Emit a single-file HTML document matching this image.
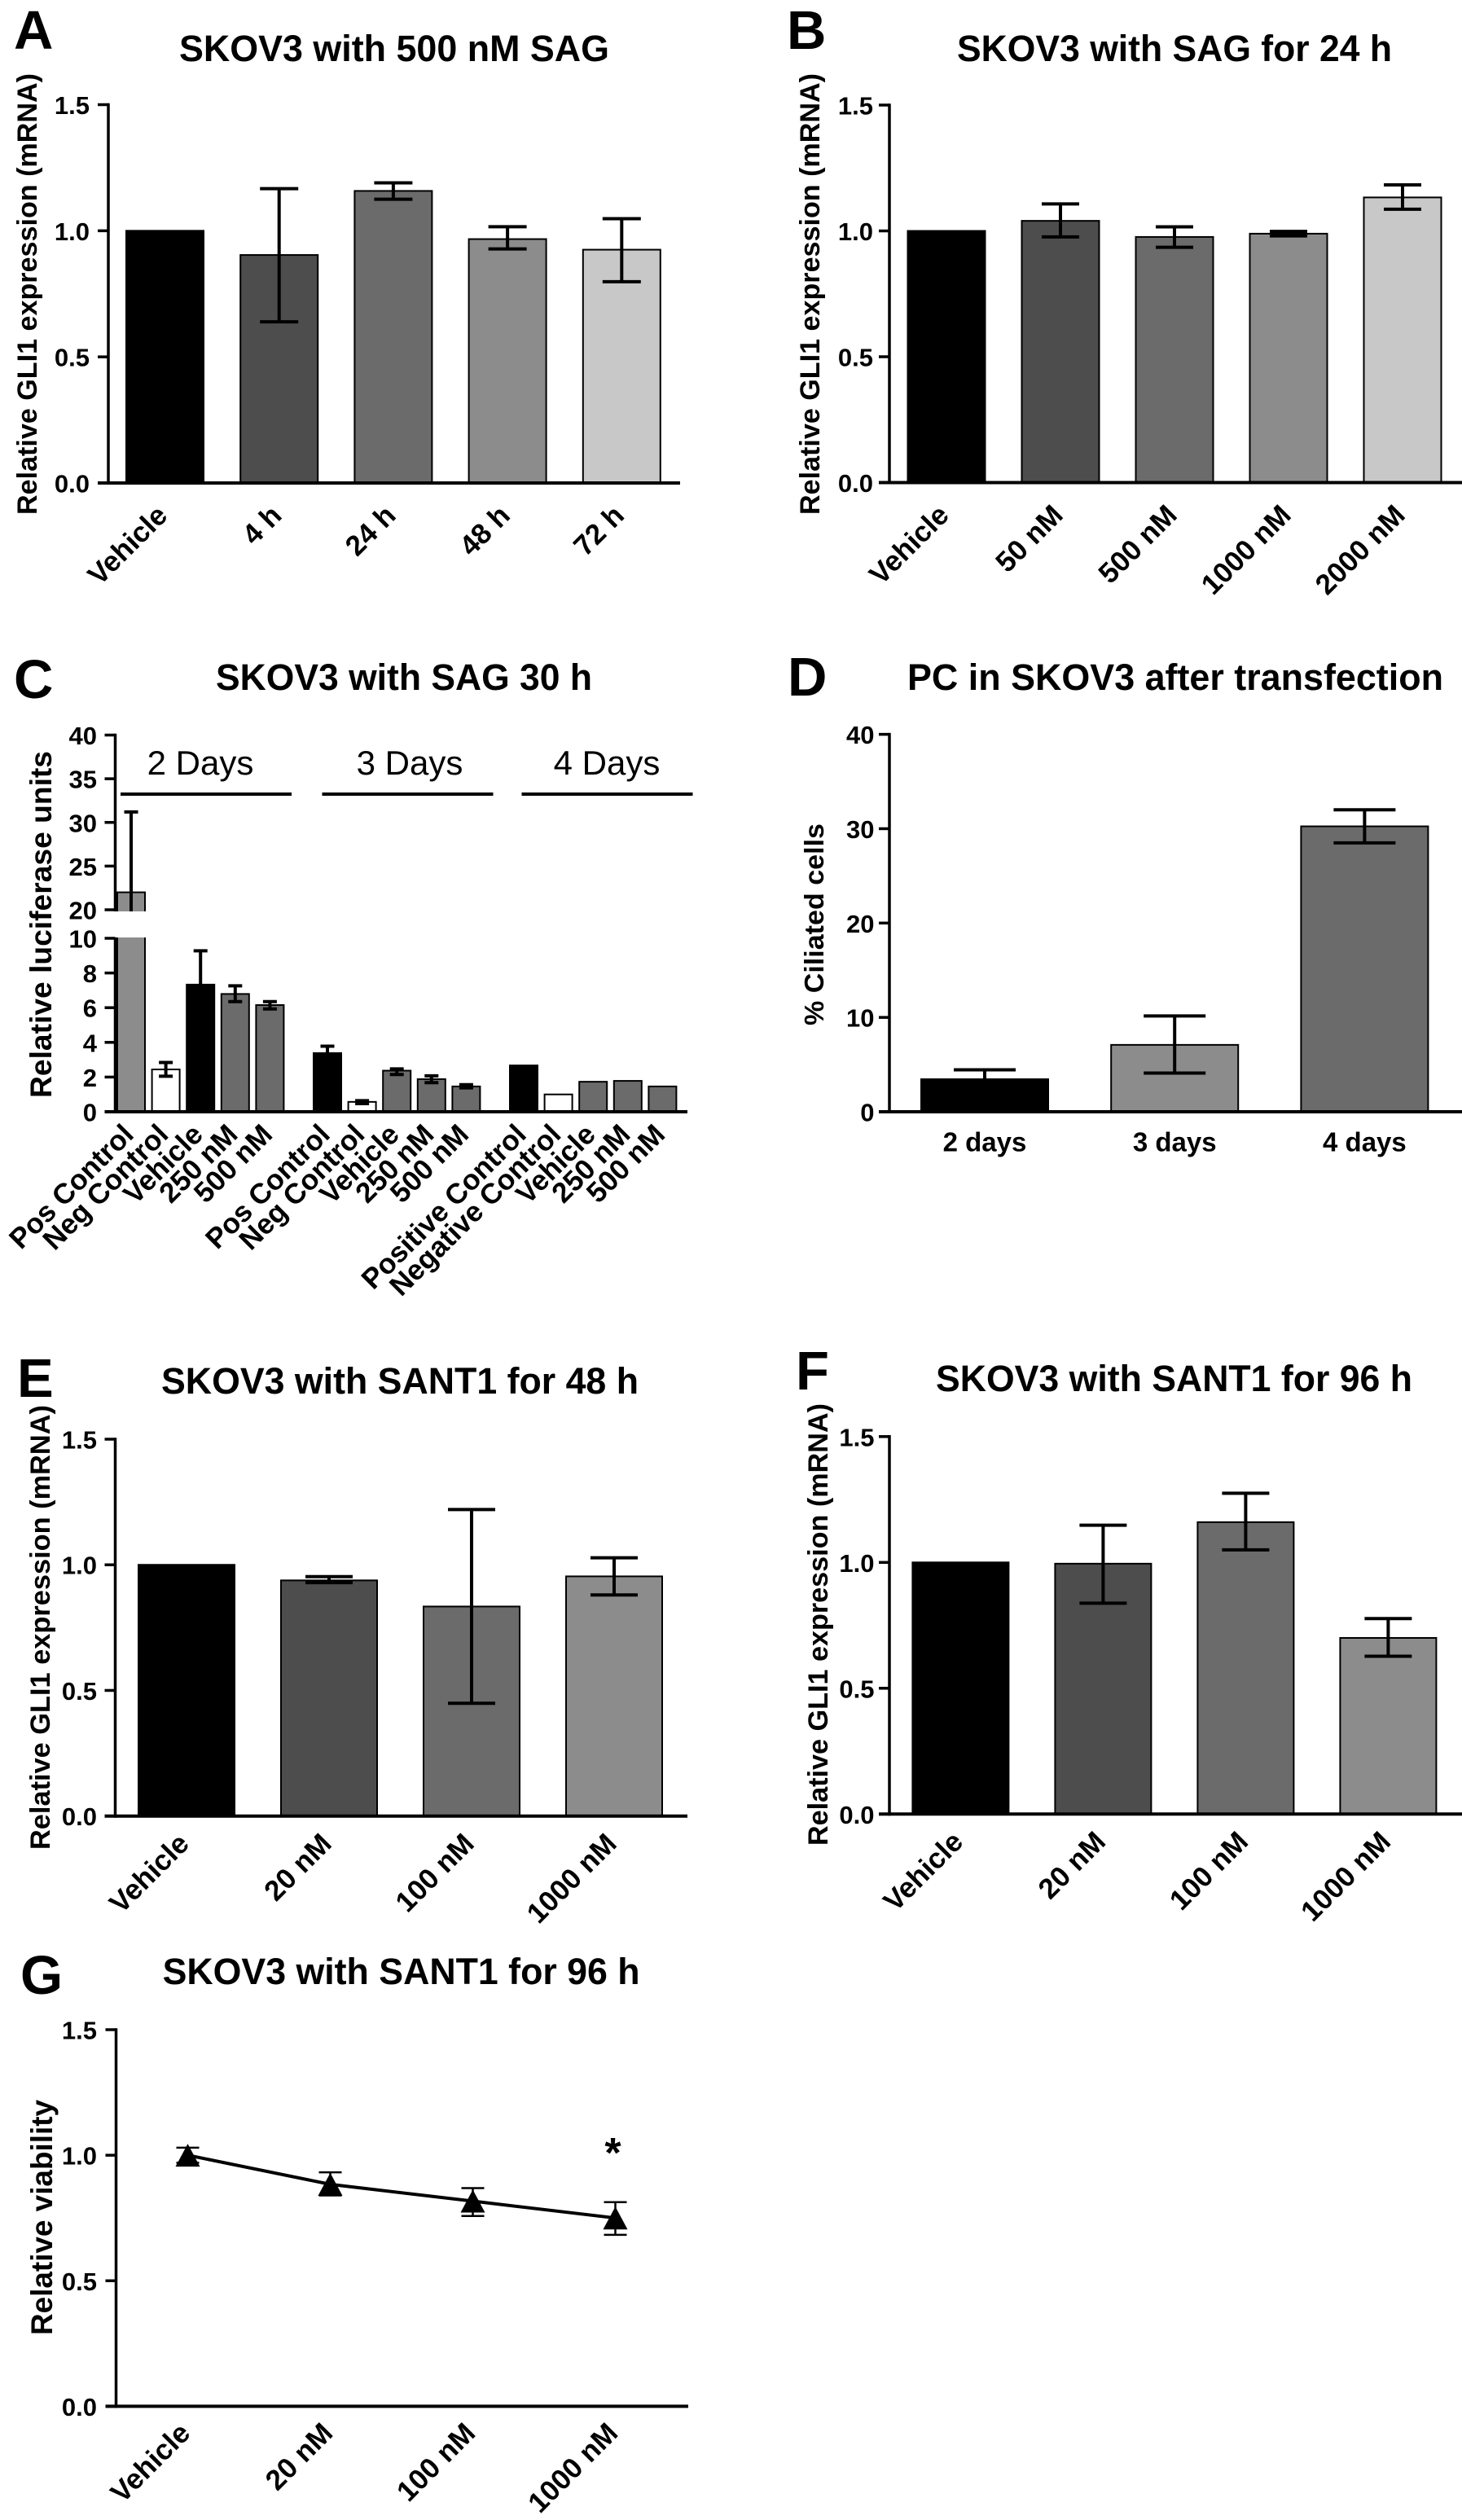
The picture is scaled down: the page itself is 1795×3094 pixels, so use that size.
<!DOCTYPE html>
<html lang="en">
<head>
<meta charset="utf-8">
<title>SKOV3 SAG and SANT1 panels</title>
<style>
html,body{margin:0;padding:0;background:#fff;}
svg{display:block;font-family:"Liberation Sans",Arial,sans-serif;}
</style>
</head>
<body>
<svg id="figure" xmlns="http://www.w3.org/2000/svg" width="1795" height="3094" viewBox="0 0 1795 3094"></svg>
<script>
/* ---------- Panel data ---------- */
const glyTickValues = [0, 0.5, 1, 1.5];
const glyTickLabels = ["0.0", "0.5", "1.0", "1.5"];

const panelACategories = ["Vehicle", "4 h", "24 h", "48 h", "72 h"];
const panelAMeans = [1, 0.904, 1.158, 0.967, 0.925];
const panelAErrHigh = [null, 1.167, 1.19, 1.016, 1.048];
const panelAErrLow = [null, 0.639, 1.125, 0.928, 0.798];

const panelBCategories = ["Vehicle", "50 nM", "500 nM", "1000 nM", "2000 nM"];
const panelBMeans = [1, 1.04, 0.976, 0.989, 1.133];
const panelBErrHigh = [null, 1.107, 1.016, 0.998, 1.183];
const panelBErrLow = [null, 0.976, 0.935, 0.98, 1.086];

const panelCCategories = ["Pos Control", "Neg Control", "Vehicle", "250 nM", "500 nM", "Pos Control", "Neg Control", "Vehicle", "250 nM", "500 nM", "Positive Control", "Negative Control", "Vehicle", "250 nM", "500 nM"];
const panelCMeans = [22, 2.44, 7.33, 6.79, 6.15, 3.38, 0.57, 2.37, 1.88, 1.46, 2.67, 1, 1.73, 1.78, 1.46];
const panelCErrHigh = [31.2, 2.84, 9.28, 7.26, 6.35, 3.78, 0.64, 2.47, 2.07, 1.56, null, null, null, null, null];
const panelCErrLow = [12.7, 2.05, 5.4, 6.35, 5.93, 3.0, 0.47, 2.15, 1.68, 1.38, null, null, null, null, null];
const panelCTickValues = [0, 2, 4, 6, 8, 10, 20, 25, 30, 35, 40];
const panelCTickLabels = ["0", "2", "4", "6", "8", "10", "20", "25", "30", "35", "40"];
const panelCGroups = ["2 Days", "3 Days", "4 Days"];

const panelDCategories = ["2 days", "3 days", "4 days"];
const panelDMeans = [3.45, 7.09, 30.25];
const panelDErrHigh = [4.45, 10.15, 32.0];
const panelDErrLow = [2.45, 4.1, 28.5];
const panelDTickValues = [0, 10, 20, 30, 40];
const panelDTickLabels = ["0", "10", "20", "30", "40"];

const panelECategories = ["Vehicle", "20 nM", "100 nM", "1000 nM"];
const panelEMeans = [1, 0.938, 0.834, 0.954];
const panelEErrHigh = [null, 0.953, 1.22, 1.028];
const panelEErrLow = [null, 0.929, 0.449, 0.88];

const panelFCategories = ["Vehicle", "20 nM", "100 nM", "1000 nM"];
const panelFMeans = [1, 0.995, 1.16, 0.70];
const panelFErrHigh = [null, 1.148, 1.275, 0.777];
const panelFErrLow = [null, 0.838, 1.05, 0.627];

const panelGCategories = ["Vehicle", "20 nM", "100 nM", "1000 nM"];
const panelGMeans = [1, 0.884, 0.817, 0.75];
const panelGErrHigh = [1.03, 0.932, 0.869, 0.813];
const panelGErrLow = [0.97, 0.84, 0.758, 0.683];

/* ---------- Helpers ---------- */
const NS = "http://www.w3.org/2000/svg";
const figure = document.getElementById("figure");

function svgEl(tag, parent, props) {
  const el = document.createElementNS(NS, tag);
  for (const k in props) el.setAttribute(k, props[k]);
  parent.appendChild(el);
  return el;
}
function linearScale(top, bottom, max) {
  return function (v) { return bottom - (v / max) * (bottom - top); };
}
function line(parent, x1, y1, x2, y2, w) {
  return svgEl("line", parent, { x1: x1, y1: y1, x2: x2, y2: y2, stroke: "#000", "stroke-width": w });
}

function drawFrame(p) {
  const g = svgEl("g", figure, {});
  
  

  const letter = svgEl("text", g, { x: p.letterX, y: p.letterY, "font-size": 67, "font-weight": "bold" });
  letter.textContent = p.letter;
  
  

  const title = svgEl("text", g, { x: p.titleX, y: p.titleY, "font-size": 45, "font-weight": "bold", textLength: p.titleW, lengthAdjust: "spacingAndGlyphs" });
  title.textContent = p.title;
  
  

  const yTitle = svgEl("text", g, { x: 0, y: 0, "font-size": p.yTitleSize, "font-weight": "bold", textLength: p.yTitleLen, lengthAdjust: "spacingAndGlyphs", transform: "translate(" + p.yTitleX + "," + p.yTitleBottom + ") rotate(-90)", "xml:space": "preserve" });
  yTitle.textContent = p.yTitle;
  
  
  return g;
}

function drawYTicks(g, p, scale, values, labels) {
  values.forEach(function (v, i) {
    const y = scale(v);
    const tick = line(g, p.axisX - 13, y, p.axisX, y, 3.5);
    
    
    const t = svgEl("text", g, { x: p.tickRight, y: y + 11.5, "font-size": 31, "font-weight": "bold", "text-anchor": "end" });
    t.textContent = labels[i];
    
    
  });
}

function drawAxes(g, p, yTop) {
  const yAxis = line(g, p.axisX, yTop - 1.75, p.axisX, p.y0 + 2, 3.5);
  
  
  const xAxis = line(g, p.axisX - 13, p.y0, p.xEnd, p.y0, 4);
  
  
}

function drawRotatedLabels(g, cats, xOf, y, size, dx) {
  cats.forEach(function (c, i) {
    const t = svgEl("text", g, { "font-size": size, "font-weight": "bold", "text-anchor": "end", transform: "translate(" + (xOf(i) + dx) + "," + y + ") rotate(-45)" });
    t.textContent = c;
    
    
  });
}

function drawBars(g, means, xOf, scale, y0, barW, fills) {
  means.forEach(function (m, i) {
    const top = scale(m);
    const r = svgEl("rect", g, { x: xOf(i) - barW / 2, y: top, width: barW, height: y0 - top, fill: fills[i], stroke: "#000", "stroke-width": 2 });
    
    
  });
}

function drawErrors(g, hi, lo, xOf, scale, capW, w) {
  hi.forEach(function (h, i) {
    if (h === null) return;
    const x = xOf(i);
    const yh = scale(h);
    const yl = scale(lo[i]);
    const stem = line(g, x, yh, x, yl, w);
    
    
    const capHi = line(g, x - capW / 2, yh, x + capW / 2, yh, w);
    
    
    const capLo = line(g, x - capW / 2, yl, x + capW / 2, yl, w);
    
    
  });
}

/* ---------- Simple bar panels (A, B, E, F) ---------- */
const fiveGreys = ["#000000", "#4d4d4d", "#6b6b6b", "#8c8c8c", "#c8c8c8"];

function glyPanel(p, cats, means, hi, lo) {
  const g = drawFrame(p);
  const scale = linearScale(p.yTop, p.y0, 1.5);
  const xOf = function (i) { return p.first + i * p.step; };
  drawBars(g, means, xOf, scale, p.y0, p.barW, fiveGreys);
  drawErrors(g, hi, lo, xOf, scale, p.capW, 4);
  drawAxes(g, p, p.yTop);
  drawYTicks(g, p, scale, glyTickValues, glyTickLabels);
  drawRotatedLabels(g, cats, xOf, p.y0 + p.labelDy, 35, 5);
}

glyPanel({ name: "panel-a", letter: "A", letterX: 17, letterY: 60, title: "SKOV3 with 500 nM SAG", titleX: 220, titleY: 75, titleW: 528,
  yTitle: "Relative GLI1 expression (mRNA)", yTitleX: 45, yTitleBottom: 632, yTitleLen: 542, yTitleSize: 34,
  axisX: 133, tickRight: 110, yTop: 128.5, y0: 593, xEnd: 835, first: 202.5, step: 140.2, barW: 95, capW: 47, labelDy: 42 },
  panelACategories, panelAMeans, panelAErrHigh, panelAErrLow);

glyPanel({ name: "panel-b", letter: "B", letterX: 966, letterY: 60, title: "SKOV3 with SAG for 24 h", titleX: 1175, titleY: 75, titleW: 534,
  yTitle: "Relative GLI1 expression (mRNA)", yTitleX: 1006, yTitleBottom: 632, yTitleLen: 542, yTitleSize: 34,
  axisX: 1092, tickRight: 1072, yTop: 129, y0: 592.5, xEnd: 1795, first: 1162, step: 140, barW: 95, capW: 46, labelDy: 42 },
  panelBCategories, panelBMeans, panelBErrHigh, panelBErrLow);

glyPanel({ name: "panel-e", letter: "E", letterX: 21, letterY: 1715, title: "SKOV3 with SANT1 for 48 h", titleX: 198, titleY: 1711, titleW: 586,
  yTitle: "Relative GLI1 expression (mRNA)", yTitleX: 61, yTitleBottom: 2271, yTitleLen: 546, yTitleSize: 34,
  axisX: 141.5, tickRight: 119, yTop: 1767, y0: 2229.7, xEnd: 844, first: 229, step: 175, barW: 118, capW: 58, labelDy: 36 },
  panelECategories, panelEMeans, panelEErrHigh, panelEErrLow);

glyPanel({ name: "panel-f", letter: "F", letterX: 977, letterY: 1706, title: "SKOV3 with SANT1 for 96 h", titleX: 1149, titleY: 1708, titleW: 585,
  yTitle: "Relative GLI1 expression (mRNA)", yTitleX: 1016, yTitleBottom: 2266, yTitleLen: 543, yTitleSize: 34,
  axisX: 1092, tickRight: 1073.5, yTop: 1763.8, y0: 2227.3, xEnd: 1795, first: 1179.4, step: 175, barW: 118, capW: 58, labelDy: 36 },
  panelFCategories, panelFMeans, panelFErrHigh, panelFErrLow);

/* ---------- Panel C (broken axis) ---------- */
(function () {
  const p = { name: "panel-c", letter: "C", letterX: 17, letterY: 857, title: "SKOV3 with SAG 30 h", titleX: 265, titleY: 847, titleW: 462,
    yTitle: "Relative luciferase units", yTitleX: 63, yTitleBottom: 1348, yTitleLen: 426, yTitleSize: 37,
    axisX: 141.5, tickRight: 119, y0: 1365, xEnd: 844 };
  const g = drawFrame(p);
  const lowPx = (1365 - 1152) / 10;
  const highPx = (1117 - 902.5) / 20;
  const scale = function (v) {
    if (v <= 10) return 1365 - v * lowPx;
    if (v >= 20) return 1117 - (v - 20) * highPx;
    return 1152 - (v - 10) * (35 / 10);
  };
  const xOf = function (i) { return 161 + i * 42.6 + Math.floor(i / 5) * 28; };
  const fills = ["#8c8c8c", "#ffffff", "#000000", "#6b6b6b", "#6b6b6b",
                 "#000000", "#ffffff", "#6b6b6b", "#6b6b6b", "#6b6b6b",
                 "#000000", "#ffffff", "#6b6b6b", "#6b6b6b", "#6b6b6b"];
  drawBars(g, panelCMeans, xOf, scale, p.y0, 34, fills);
  drawErrors(g, panelCErrHigh, panelCErrLow, xOf, scale, 17, 4);
  drawAxes(g, p, 902.5);
  const gap = svgEl("rect", g, { x: 124, y: 1119, width: 62, height: 32, fill: "#fff" });
  
  
  drawYTicks(g, p, scale, panelCTickValues, panelCTickLabels);
  drawRotatedLabels(g, panelCCategories, xOf, p.y0 + 30, 35, 5);
  const groupTextX = [246, 503, 745];
  const bracketMidX = [253, 500.5, 745.5];
  panelCGroups.forEach(function (name, i) {
    const t = svgEl("text", g, { x: groupTextX[i], y: 951, "font-size": 42, "text-anchor": "middle" });
    t.textContent = name;
    
    
    const l = line(g, bracketMidX[i] - 105, 975, bracketMidX[i] + 105, 975, 4);
    
    
  });
})();

/* ---------- Panel D ---------- */
(function () {
  const p = { name: "panel-d", letter: "D", letterX: 967, letterY: 854, title: "PC in SKOV3 after transfection", titleX: 1114, titleY: 847, titleW: 658,
    yTitle: "%  Ciliated cells", yTitleX: 1011, yTitleBottom: 1259, yTitleLen: 248, yTitleSize: 33,
    axisX: 1092, tickRight: 1073.5, y0: 1365, xEnd: 1795 };
  const g = drawFrame(p);
  const scale = linearScale(901.6, p.y0, 40);
  const xOf = function (i) { return 1209 + i * 233.2; };
  const fills = ["#000000", "#8c8c8c", "#6b6b6b"];
  drawBars(g, panelDMeans, xOf, scale, p.y0, 156, fills);
  drawErrors(g, panelDErrHigh, panelDErrLow, xOf, scale, 76, 4);
  drawAxes(g, p, 901.6);
  drawYTicks(g, p, scale, panelDTickValues, panelDTickLabels);
  panelDCategories.forEach(function (c, i) {
    const t = svgEl("text", g, { x: xOf(i), y: 1413.5, "font-size": 33, "font-weight": "bold", "text-anchor": "middle" });
    t.textContent = c;
    
    
  });
})();

/* ---------- Panel G (line) ---------- */
(function () {
  const p = { name: "panel-g", letter: "G", letterX: 25, letterY: 2448, title: "SKOV3 with SANT1 for 96 h", titleX: 199.6, titleY: 2436, titleW: 586,
    yTitle: "Relative viability", yTitleX: 64, yTitleBottom: 2867, yTitleLen: 289, yTitleSize: 37,
    axisX: 142.5, tickRight: 119, y0: 2954.4, xEnd: 845 };
  const g = drawFrame(p);
  const scale = linearScale(2492, p.y0, 1.5);
  const xOf = function (i) { return 230.5 + i * 175; };
  drawAxes(g, p, 2492);
  drawYTicks(g, p, scale, glyTickValues, glyTickLabels);
  drawErrors(g, panelGErrHigh, panelGErrLow, xOf, scale, 28, 2.5);
  const path = svgEl("polyline", g, { points: panelGMeans.map(function (m, i) { return xOf(i) + "," + scale(m); }).join(" "), fill: "none", stroke: "#000", "stroke-width": 4 });
  
  
  panelGMeans.forEach(function (m, i) {
    const x = xOf(i), y = scale(m);
    const tri = svgEl("polygon", g, { points: (x) + "," + (y - 14) + " " + (x + 15) + "," + (y + 14) + " " + (x - 15) + "," + (y + 14), fill: "#000" });
    
    
  });
  const star = svgEl("text", g, { x: 752.5, y: 2661, "font-size": 52, "font-weight": "bold", "text-anchor": "middle" });
  star.textContent = "*";
  
  
  drawRotatedLabels(g, panelGCategories, xOf, p.y0 + 35, 35, 5);
})();
</script>
</body>
</html>
